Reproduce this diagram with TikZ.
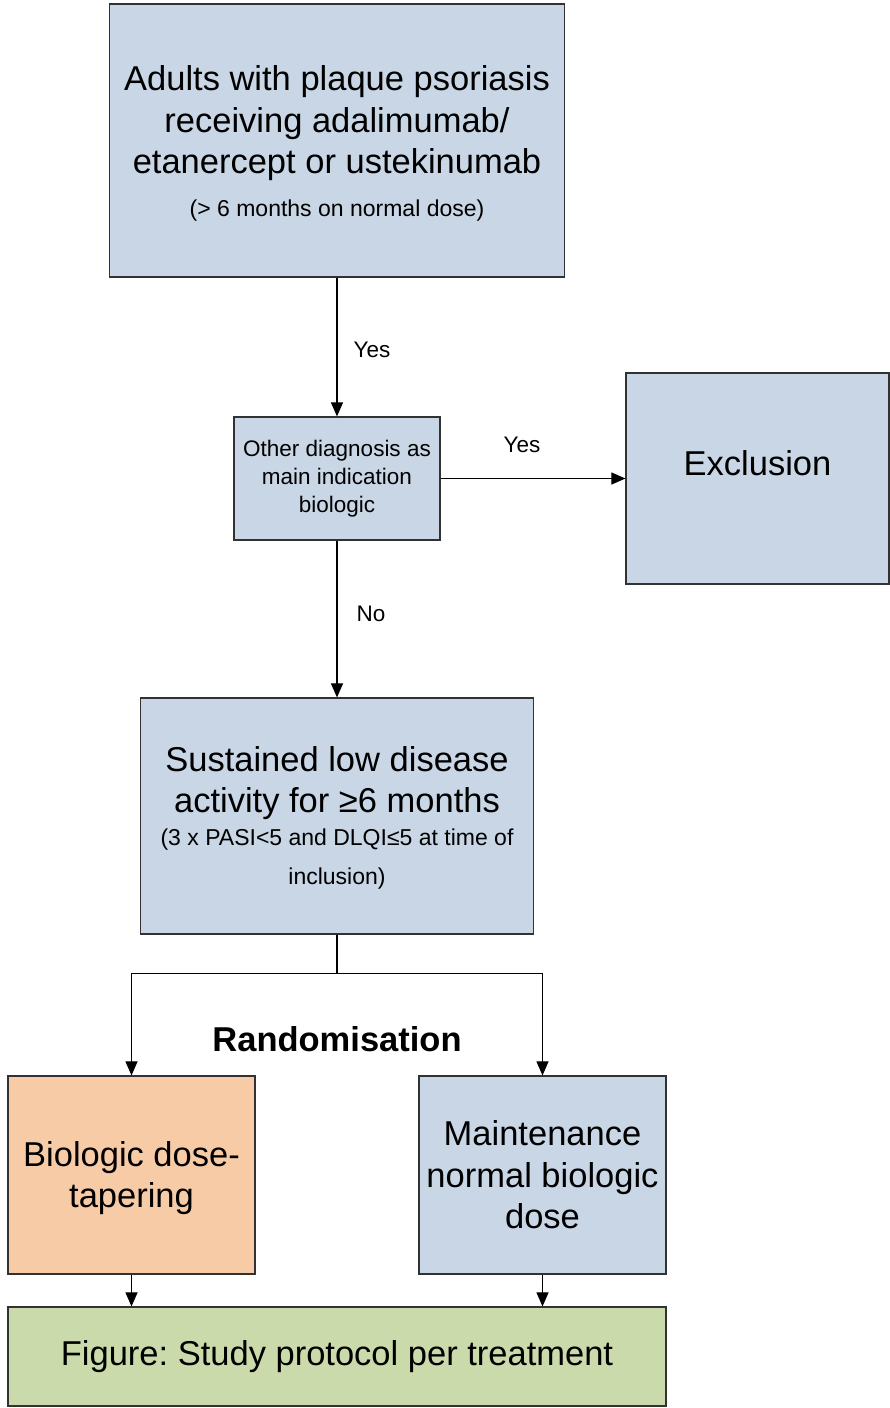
\documentclass[tikz,border=0pt]{standalone}
\usepackage{fontspec}
\setmainfont{Liberation Sans}
\usetikzlibrary{arrows.meta}
\definecolor{boxblue}{RGB}{201,214,229}
\definecolor{boxorange}{RGB}{248,203,167}
\definecolor{boxgreen}{RGB}{203,218,170}
\definecolor{edgegray}{RGB}{50,50,50}
\frenchspacing
\begin{document}
\begin{tikzpicture}[x=1pt,y=-1pt,
  box/.style={draw=edgegray, line width=1.2pt, rectangle, inner sep=0pt, align=center},
  txt/.style={inner sep=0pt, align=center},
  big/.style={font=\fontsize{34.5}{41.5}\selectfont},
  mid/.style={font=\fontsize{22.5}{28}\selectfont},
  arr/.style={-{Triangle[length=14pt,width=12pt]}, line width=1.1pt},
  lbl/.style={font=\fontsize{22.5}{27}\selectfont, inner sep=0pt}]
\useasboundingbox (0,0) rectangle (890,1408);

\node[box, fill=boxblue, minimum width=455pt, minimum height=273pt] (adults) at (337,140.5) {};
\node[txt, big] (adultstext) at ([yshift=-3pt]adults.center)
  {Adults with plaque psoriasis\\ receiving adalimumab/\\ etanercept or ustekinumab\\[1pt]
   {\fontsize{23}{27}\selectfont (> 6 months on normal dose)}};

\node[box, mid, fill=boxblue, minimum width=206pt, minimum height=123pt] (diag) at (337,478.5)
  {Other diagnosis as\\ main indication\\ biologic};

\node[box, fill=boxblue, minimum width=263pt, minimum height=211pt] (excl) at (757.5,478.5) {};
\node[txt, big] (excltext) at (757.5,463) {Exclusion};

\node[box, fill=boxblue, minimum width=393pt, minimum height=236pt] (sust) at (337,816) {};
\node[txt, big] (susttext) at ([yshift=-2pt]sust.center)
  {Sustained low disease\\ activity for ≥6 months\\[-9pt]
   {\fontsize{23}{27}\selectfont (3 x PASI<5 and DLQI≤5 at time of}\\[-2pt]
   {\fontsize{23}{27}\selectfont inclusion)}};

\node[box, fill=boxorange, minimum width=247pt, minimum height=198pt] (taper) at (131.5,1175) {};
\node[txt, big] (tapertext) at ([yshift=-3pt]taper.center) {Biologic dose-\\ tapering};

\node[box, big, fill=boxblue, minimum width=247pt, minimum height=198pt] (maint) at (542.5,1175)
  {Maintenance\\ normal biologic\\ dose};

\node[box, big, fill=boxgreen, minimum width=658pt, minimum height=99pt] (fig) at (337,1356.5)
  {Figure: Study protocol per treatment};

\node[txt, font=\fontsize{34.5}{41.5}\selectfont\bfseries] (rand) at (337,1039) {Randomisation};

\draw[arr] (adults.south) -- node[lbl, pos=0.52, right=16pt] (yes1) {Yes} (diag.north);
\draw[arr] (diag.east) -- (excl.west);
\node[lbl] (yes2) at (522,445) {Yes};
\draw[arr] (diag.south) -- node[lbl, pos=0.47, right=19pt] (no1) {No} (sust.north);

\draw[line width=1.1pt] (sust.south) -- ++(0,39) coordinate (split);
\draw[arr] (split) -| (taper.north);
\draw[arr] (split) -| (maint.north);

\draw[arr] (taper.south) -- (taper.south |- fig.north);
\draw[arr] (maint.south) -- (maint.south |- fig.north);
\end{tikzpicture}
\end{document}
